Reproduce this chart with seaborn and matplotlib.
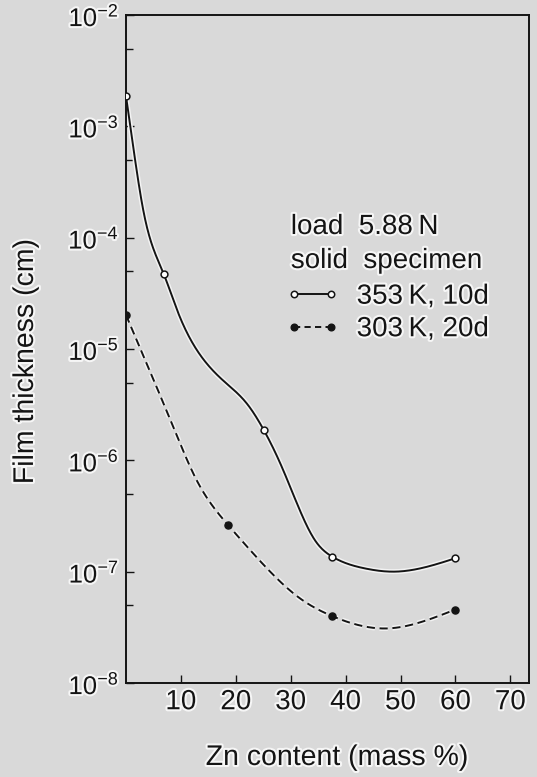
import numpy as np
import pandas as pd
import matplotlib
matplotlib.use("Agg")
import matplotlib.pyplot as plt
import matplotlib.patheffects as pe
from matplotlib.lines import Line2D
from matplotlib.legend_handler import HandlerLine2D
import seaborn as sns

# Measured film thickness (cm) versus Zn content (mass %)
zn_353 = [0.0, 6.9, 25.1, 37.6, 60.0]
thk_353 = [1.87e-3, 4.68e-5, 1.87e-6, 1.36e-7, 1.32e-7]

zn_303 = [0.0, 18.6, 37.6, 60.0]
thk_303 = [2.02e-5, 2.62e-7, 3.98e-8, 4.57e-8]

# Hand-drawn trend curves through the measurements
fit_zn_353 = [0.0, 1.31, 3.26, 6.9, 9.3, 14.7, 18.3, 22.0, 25.1,
              28.3, 31.4, 34.4, 37.6, 43.5, 48.7, 60.0]
fit_thk_353 = [1.87e-3, 6.56e-4, 1.65e-4, 4.68e-5, 2.24e-5, 7.41e-6,
               4.9e-6, 3.24e-6, 1.87e-6, 8.91e-7, 3.82e-7, 1.92e-7, 1.36e-7,
               1.07e-7, 1.0e-7, 1.32e-7]

fit_zn_303 = [0.0, 3.75, 8.6, 12.86, 18.6, 22.5, 31.7, 37.6, 47.5, 54.75, 60.0]
fit_thk_303 = [2.02e-5, 7.43e-6, 2.0e-6, 6.64e-7, 2.62e-7, 1.585e-7, 5.75e-8,
               3.98e-8, 3.09e-8, 3.66e-8, 4.57e-8]

x_ticks = [10, 20, 30, 40, 50, 60, 70]
y_ticks = [1e-8, 1e-7, 1e-6, 1e-5, 1e-4, 1e-3, 1e-2]
y_tick_labels = [r"$10^{-8}$", r"$10^{-7}$", r"$10^{-6}$", r"$10^{-5}$",
                 r"$10^{-4}$", r"$10^{-3}$", r"$10^{-2}$"]
y_minor_ticks = [5e-8, 5e-7, 5e-6, 5e-5, 5e-4, 5e-3]

legend_title = "load  5.88\u2009N\nsolid  specimen"
label_353 = "353\u2009K, 10d"
label_303 = "303\u2009K, 20d"


def natural_spline(xs, ys, n=500):
    """Natural cubic spline through the points, in log10 space of y."""
    x = np.asarray(xs, float)
    y = np.log10(np.asarray(ys, float))
    m = len(x)
    h = np.diff(x)
    A = np.zeros((m, m))
    r = np.zeros(m)
    A[0, 0] = A[-1, -1] = 1.0
    for i in range(1, m - 1):
        A[i, i - 1] = h[i - 1]
        A[i, i] = 2 * (h[i - 1] + h[i])
        A[i, i + 1] = h[i]
        r[i] = 6 * ((y[i + 1] - y[i]) / h[i] - (y[i] - y[i - 1]) / h[i - 1])
    M = np.linalg.solve(A, r)
    xx = np.linspace(x[0], x[-1], n)
    k = np.clip(np.searchsorted(x, xx, side="right") - 1, 0, m - 2)
    hk = x[k + 1] - x[k]
    t0 = xx - x[k]
    t1 = x[k + 1] - xx
    yy = (M[k] * t1 ** 3 / (6 * hk) + M[k + 1] * t0 ** 3 / (6 * hk)
          + (y[k] / hk - M[k] * hk / 6) * t1
          + (y[k + 1] / hk - M[k + 1] * hk / 6) * t0)
    return pd.DataFrame({"zn": xx, "thk": 10 ** yy})


sns.set_theme(style="ticks")
bg = "#d9d9d9"
ink = "#141414"
plt.rcParams["font.family"] = ["Liberation Sans", "DejaVu Sans"]
plt.rcParams["mathtext.fontset"] = "custom"
plt.rcParams["mathtext.rm"] = "Liberation Sans"
plt.rcParams["mathtext.it"] = "Liberation Sans:italic"
plt.rcParams["mathtext.bf"] = "Liberation Sans:bold"
plt.rcParams["text.color"] = ink
plt.rcParams["axes.labelcolor"] = ink
plt.rcParams["xtick.color"] = ink
plt.rcParams["ytick.color"] = ink

halo_text = [pe.withStroke(linewidth=3, foreground="#f6f6f6")]
halo_line = [pe.Stroke(linewidth=3.6, foreground="#f3f3f3"), pe.Normal()]

fig = plt.figure(figsize=(5.37, 7.77), dpi=100, facecolor=bg)
ax = fig.add_axes([126 / 537, 1 - 683 / 777, 403 / 537, 668 / 777])
ax.set_facecolor(bg)

curve_353 = natural_spline(fit_zn_353, fit_thk_353)
curve_303 = natural_spline(fit_zn_303, fit_thk_303)

sns.lineplot(data=curve_353, x="zn", y="thk", ax=ax, color=ink, lw=1.4,
             sort=False, estimator=None, zorder=2)
sns.lineplot(data=curve_303, x="zn", y="thk", ax=ax, color=ink, lw=1.4,
             sort=False, estimator=None, zorder=2)
ax.lines[-1].set_linestyle((0, (4.2, 2.4)))
for ln in ax.lines:
    ln.set_path_effects(halo_line)

sns.scatterplot(x=zn_353, y=thk_353, ax=ax, s=24, marker="o",
                facecolor="white", edgecolor=ink, linewidth=1.1, zorder=3)
sns.scatterplot(x=zn_303, y=thk_303, ax=ax, s=26, marker="o",
                facecolor=ink, edgecolor=ink, linewidth=1.0, zorder=3)

ax.set_yscale("log")
ax.set_xlim(0, 73.4)
ax.set_ylim(1e-8, 1e-2)
ax.set_xticks(x_ticks)
ax.set_xticklabels([str(v) for v in x_ticks], fontsize=20)
ax.set_yticks(y_ticks)
ax.set_yticklabels(y_tick_labels, fontsize=18.5)
ax.set_yticks(y_minor_ticks, minor=True)
ax.yaxis.set_minor_formatter(matplotlib.ticker.NullFormatter())
ax.xaxis.set_minor_locator(matplotlib.ticker.NullLocator())
ax.tick_params(axis="both", which="major", direction="in", length=5.5,
               width=1.0, pad=5)
ax.tick_params(axis="y", which="minor", direction="in", length=5, width=1.0)
ax.tick_params(axis="x", which="major", pad=4.5)

for side in ["left", "right", "top", "bottom"]:
    ax.spines[side].set_visible(True)
    ax.spines[side].set_color(ink)
    ax.spines[side].set_linewidth(1.4)

ax.set_xlabel("Zn content (mass %)", fontsize=20.5)
ax.set_ylabel("Film thickness (cm)", fontsize=20.5)
ax.xaxis.set_label_coords(0.5236, -0.0928)
ax.yaxis.set_label_coords(-0.216, 0.481)

handles = [
    Line2D([], [], color=ink, lw=1.4, marker="o", markersize=4.6,
           markerfacecolor="white", markeredgecolor=ink, markeredgewidth=1.1),
    Line2D([], [], color=ink, lw=1.4, ls=(0, (3.2, 2.2)), marker="o",
           markersize=4.8, markerfacecolor=ink, markeredgecolor=ink),
]
leg = ax.legend(handles, [label_353, label_303], title=legend_title,
                loc="upper left", bbox_to_anchor=(0.409, 0.7021),
                frameon=False, fontsize=20, title_fontsize=20, numpoints=2,
                handlelength=1.58, handletextpad=0.79, labelspacing=0.235,
                borderpad=0.0, borderaxespad=0.0, alignment="left",
                handler_map={Line2D: HandlerLine2D(marker_pad=0.12)})
leg.get_title().set_linespacing(1.4)
leg._legend_box.sep = 7.0

for t in (ax.get_xticklabels() + ax.get_yticklabels()
          + [ax.xaxis.label, ax.yaxis.label, leg.get_title()] + leg.get_texts()):
    t.set_path_effects(halo_text)

fig.savefig("out.png", dpi=100, facecolor=bg)
